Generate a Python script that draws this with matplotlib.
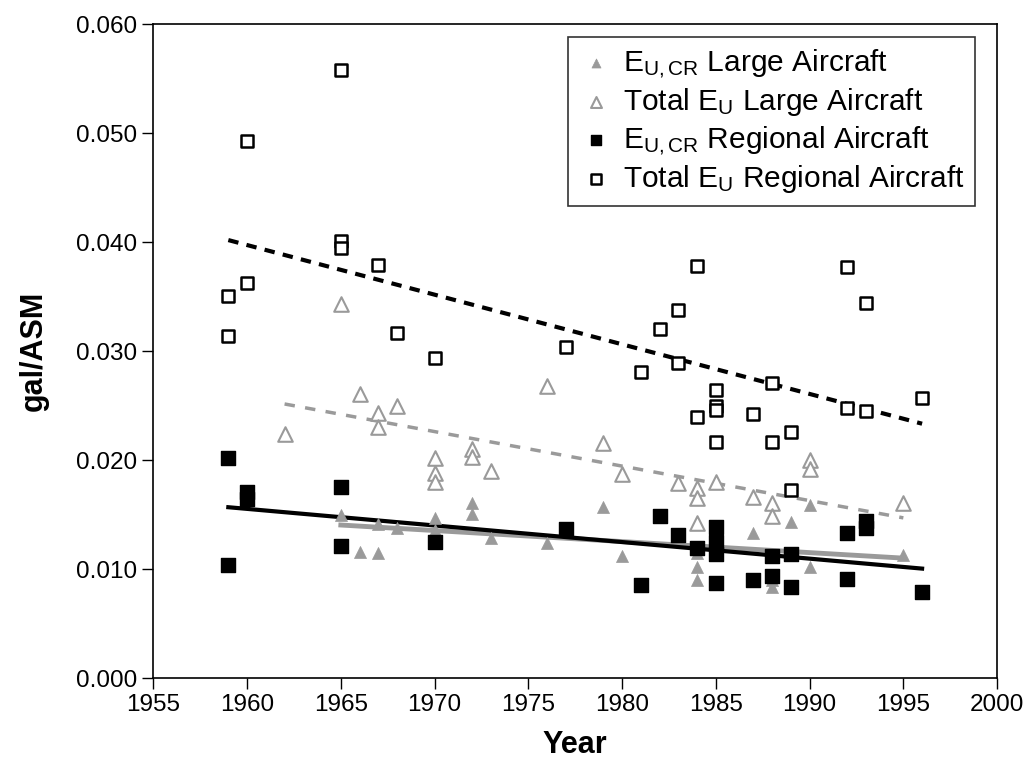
import numpy as np
import matplotlib
matplotlib.use('Agg')
import matplotlib.pyplot as plt

plt.rcParams['font.family'] = ['Liberation Sans', 'DejaVu Sans']
plt.rcParams['mathtext.fontset'] = 'custom'
plt.rcParams['mathtext.rm'] = 'Liberation Sans'
plt.rcParams['mathtext.it'] = 'Liberation Sans:italic'
plt.rcParams['mathtext.bf'] = 'Liberation Sans:bold'

# Large aircraft, cruise energy intensity
largeCrYears = [1965, 1966, 1967, 1967, 1968, 1970, 1970, 1972, 1972, 1973, 1976,
                1979, 1980, 1983, 1984, 1984, 1984, 1985, 1987, 1988, 1988,
                1989, 1990, 1990, 1995]
largeCrVals = [0.0150, 0.0116, 0.0141, 0.0115, 0.0138, 0.0147, 0.0136, 0.0161, 0.0151,
               0.0129, 0.0124, 0.0157, 0.0112, 0.0130, 0.0115, 0.0102, 0.0090, 0.0122,
               0.0133, 0.0090, 0.0084, 0.0143, 0.0159, 0.0102, 0.0113]

# Large aircraft, total energy intensity
largeTotYears = [1962, 1965, 1966, 1967, 1967, 1968, 1970, 1970, 1970, 1972, 1972,
                 1973, 1976, 1979, 1980, 1983, 1984, 1984, 1984, 1985, 1987, 1988,
                 1988, 1990, 1990, 1995]
largeTotVals = [0.0224, 0.0343, 0.0261, 0.0243, 0.0230, 0.0250, 0.0202, 0.0188, 0.0180,
                0.0210, 0.0203, 0.0190, 0.0268, 0.0216, 0.0187, 0.0179, 0.0174, 0.0165,
                0.0142, 0.0180, 0.0166, 0.0161, 0.0149, 0.0200, 0.0192, 0.0161]

# Regional aircraft, cruise energy intensity
regCrYears = [1959, 1959, 1960, 1960, 1965, 1965, 1970, 1977, 1981, 1982, 1983, 1984,
              1985, 1985, 1985, 1985, 1987, 1988, 1988, 1989, 1989, 1992, 1992,
              1993, 1993, 1996]
regCrVals = [0.0202, 0.0104, 0.0171, 0.0164, 0.0175, 0.0121, 0.0125, 0.0137, 0.0085,
             0.0149, 0.0131, 0.0119, 0.0139, 0.0125, 0.0114, 0.0087, 0.0090, 0.0112,
             0.0094, 0.0114, 0.0084, 0.0133, 0.0091, 0.0144, 0.0138, 0.0079]

# Regional aircraft, total energy intensity
regTotYears = [1959, 1959, 1960, 1960, 1965, 1965, 1965, 1967, 1968, 1970, 1977, 1981,
               1982, 1983, 1983, 1984, 1984, 1985, 1985, 1985, 1985, 1987, 1988, 1988,
               1989, 1989, 1992, 1992, 1993, 1993, 1996]
regTotVals = [0.0351, 0.0314, 0.0493, 0.0363, 0.0558, 0.0401, 0.0395, 0.0379, 0.0317,
              0.0294, 0.0304, 0.0281, 0.0320, 0.0338, 0.0289, 0.0378, 0.0240, 0.0264,
              0.0250, 0.0246, 0.0217, 0.0242, 0.0271, 0.0217, 0.0226, 0.0173, 0.0377,
              0.0248, 0.0344, 0.0245, 0.0257]

gray = '#9a9a9a'


def trend(ax, xs, ys, **kw):
    xs = np.asarray(xs, float)
    ys = np.asarray(ys, float)
    m, b = np.polyfit(xs, ys, 1)
    xx = np.array([xs.min(), xs.max()])
    ax.plot(xx, m * xx + b, **kw)


fig = plt.figure(figsize=(10.29, 7.61), dpi=100)
ax = fig.add_axes([0.149, 0.109, 0.820, 0.859])

ax.scatter(largeCrYears, largeCrVals, marker='^', s=75, color=gray, edgecolors=gray,
           linewidths=0.5, label=r'E$_{\mathrm{U,CR}}$ Large Aircraft', zorder=3)
ax.scatter(largeTotYears, largeTotVals, marker='^', s=110, facecolors='white',
           edgecolors=gray, linewidths=1.5, label=r'Total E$_{\mathrm{U}}$ Large Aircraft', zorder=3)
ax.scatter(regCrYears, regCrVals, marker='s', s=110, color='black',
           label=r'E$_{\mathrm{U,CR}}$ Regional Aircraft', zorder=4)
ax.scatter(regTotYears, regTotVals, marker='s', s=85, facecolors='white',
           edgecolors='black', linewidths=1.8, label=r'Total E$_{\mathrm{U}}$ Regional Aircraft', zorder=4)

trend(ax, largeCrYears, largeCrVals, color=gray, lw=3.5, zorder=2)
trend(ax, largeTotYears, largeTotVals, color=gray, lw=2.5, ls=(0, (3, 3)), zorder=2)
trend(ax, regCrYears, regCrVals, color='black', lw=3, zorder=2)
trend(ax, regTotYears, regTotVals, color='black', lw=3, ls=(0, (2.5, 2)), zorder=2)

ax.set_xlim(1955, 2000)
ax.set_ylim(0, 0.06)
ax.set_xticks(np.arange(1955, 2001, 5))
ax.set_yticks(np.arange(0, 0.0601, 0.01))
ax.set_yticklabels(['%.3f' % v for v in np.arange(0, 0.0601, 0.01)])
ax.tick_params(labelsize=17.5, length=8, width=1, direction='out')
for s in ax.spines.values():
    s.set_linewidth(1.2)

ax.set_xlabel('Year', fontsize=22, fontweight='bold', labelpad=10)
ax.set_ylabel('gal/ASM', fontsize=22, fontweight='bold', labelpad=20)

leg = ax.legend(loc='upper right', bbox_to_anchor=(0.974, 0.981), borderaxespad=0,
                fontsize=21.5, frameon=True, fancybox=False, edgecolor='black',
                handletextpad=0.3, borderpad=0.35, labelspacing=0.2, handlelength=1.2,
                markerscale=0.75)
leg.get_frame().set_linewidth(1.2)

fig.savefig('out.png', dpi=100)
